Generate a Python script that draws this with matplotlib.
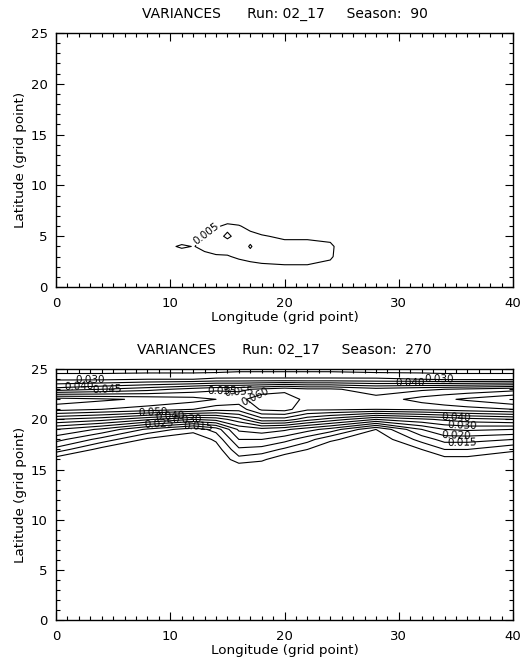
import numpy as np
import matplotlib
matplotlib.use("Agg")
import matplotlib.pyplot as plt
from matplotlib.ticker import MultipleLocator

# season 90 field (variance, units of 0.001)
lon_s90 = [0, 9, 10, 11, 12, 13, 14, 15, 16, 17, 18, 20, 22, 24, 25, 26, 40]
lat_s90 = [0, 1, 2, 3, 4, 5, 6, 7, 25]
var_s90 = [
    [0, 0, 0, 0, 0, 0, 0, 0, 0, 0, 0, 0, 0, 0, 0, 0, 0],
    [0, 0, 0, 0, 0, 0, 0, 0, 0, 0, 0, 0, 0, 0, 0, 0, 0],
    [0, 0, 0, 0, 0, 0, 0, 0, 2, 3, 4, 4.5, 4.5, 3, 0, 0, 0],
    [0, 0, 0, 0.5, 3, 4, 4.5, 4.5, 6, 7, 7, 7, 7, 6, 2, 0, 0],
    [0, 0, 4, 6, 4.8, 6, 7, 8, 8, 4.5, 8, 7, 7, 6, 3, 0, 0],
    [0, 0, 0, 0.5, 3, 5.5, 7, 4, 7, 7, 5.5, 4, 4, 3.5, 0, 0, 0],
    [0, 0, 0, 0, 0, 2, 4, 6.5, 5.5, 3, 2, 1, 0, 0, 0, 0, 0],
    [0, 0, 0, 0, 0, 0, 0, 0, 0, 0, 0, 0, 0, 0, 0, 0, 0],
    [0, 0, 0, 0, 0, 0, 0, 0, 0, 0, 0, 0, 0, 0, 0, 0, 0],
]

# season 270 field (variance, units of 0.001)
lon_s270 = [0, 4, 8, 12, 14, 16, 18, 20, 22, 24, 28, 32, 34, 36, 40]
lat_s270 = [0, 15, 16, 17, 18, 19, 20, 21, 22, 23, 24, 25]
var_s270 = [
    [0, 0, 0, 0, 0, 0, 0, 0, 0, 0, 0, 0, 0, 0, 0],
    [0, 0, 0, 0, 0, 0, 0, 0, 0, 0, 0, 0, 0, 0, 0],
    [2, 0, 0, 0, 0, 8, 6, 1, 0, 0, 0, 0, 3, 3, 1],
    [13, 3, 0, 0, 2, 14, 13, 9, 5, 1, 0, 5, 10, 10, 6],
    [22, 13, 4, 1, 6, 20, 20, 17, 12, 6, 1, 12, 17, 17, 15],
    [30, 24, 14, 7, 12, 26, 28, 26, 22, 18, 5, 20, 25, 26, 25],
    [45, 42, 36, 30, 32, 38, 48, 48, 42, 38, 30, 34, 36, 38, 40],
    [62, 60, 58, 55, 52, 52, 61, 62, 56, 56, 55, 56, 57, 58, 60],
    [68, 66, 64, 62, 60, 58, 64, 64, 58, 59, 57, 62, 64, 66, 70],
    [42, 45, 48, 52, 54, 54, 56, 58, 56, 56, 52, 54, 55, 56, 58],
    [29, 29, 30, 30, 31, 31, 31, 31, 31, 31, 31, 30, 29, 29, 29],
    [22, 22, 22, 22, 22, 23, 23, 23, 23, 23, 22, 22, 22, 22, 22],
]

levels_s90 = [0.005]
levels_s270 = np.arange(0.005, 0.0651, 0.005)

# where the contour labels sit
labels_s90 = [(13.3, 4.9)]
labels_s270 = [(3, 24.2), (2, 23.3), (4.5, 23.0), (8.5, 20.6), (10, 20.3),
               (11.5, 20.0), (9, 19.6), (12.5, 19.4), (14.5, 22.8), (16, 22.4),
               (17.5, 22.0), (31, 23.5), (33.5, 23.9), (35, 20.0), (35.5, 19.2),
               (35, 18.5), (35.5, 17.9)]

fig = plt.figure(figsize=(5.26, 6.6), dpi=100)
ax1 = fig.add_axes([0.1065, 0.565, 0.869, 0.385])
ax2 = fig.add_axes([0.1065, 0.0606, 0.869, 0.380])


def style(ax, season):
    ax.set_xlim(0, 40)
    ax.set_ylim(0, 25)
    ax.xaxis.set_major_locator(MultipleLocator(10))
    ax.xaxis.set_minor_locator(MultipleLocator(1))
    ax.yaxis.set_major_locator(MultipleLocator(5))
    ax.yaxis.set_minor_locator(MultipleLocator(1))
    ax.tick_params(which="both", direction="in", top=True, right=True,
                   labelsize=9.5, width=0.8)
    ax.tick_params(which="major", length=5.5)
    ax.tick_params(which="minor", length=3)
    ax.tick_params(axis="x", which="major", pad=7)
    ax.tick_params(axis="y", which="major", pad=6)
    for s in ax.spines.values():
        s.set_linewidth(1.0)
    ax.set_xlabel("Longitude (grid point)", fontsize=9.7, labelpad=1)
    ax.set_ylabel("Latitude (grid point)", fontsize=9.7, labelpad=3)
    ax.set_title("VARIANCES      Run: 02_17     Season:  " + season,
                 fontsize=10, pad=11)


x, y = np.meshgrid(lon_s90, lat_s90)
cs1 = ax1.contour(x, y, np.array(var_s90) / 1000.0, levels=levels_s90,
                  colors="k", linewidths=0.8)
ax1.clabel(cs1, fmt="%.3f", fontsize=7.5, inline=True, inline_spacing=1,
           manual=labels_s90)
style(ax1, "90")

x, y = np.meshgrid(lon_s270, lat_s270)
cs2 = ax2.contour(x, y, np.array(var_s270) / 1000.0, levels=levels_s270,
                  colors="k", linewidths=0.8)
ax2.clabel(cs2, fmt="%.3f", fontsize=7.5, inline=False, manual=labels_s270)
style(ax2, "270")

fig.savefig("out.png", dpi=100)
